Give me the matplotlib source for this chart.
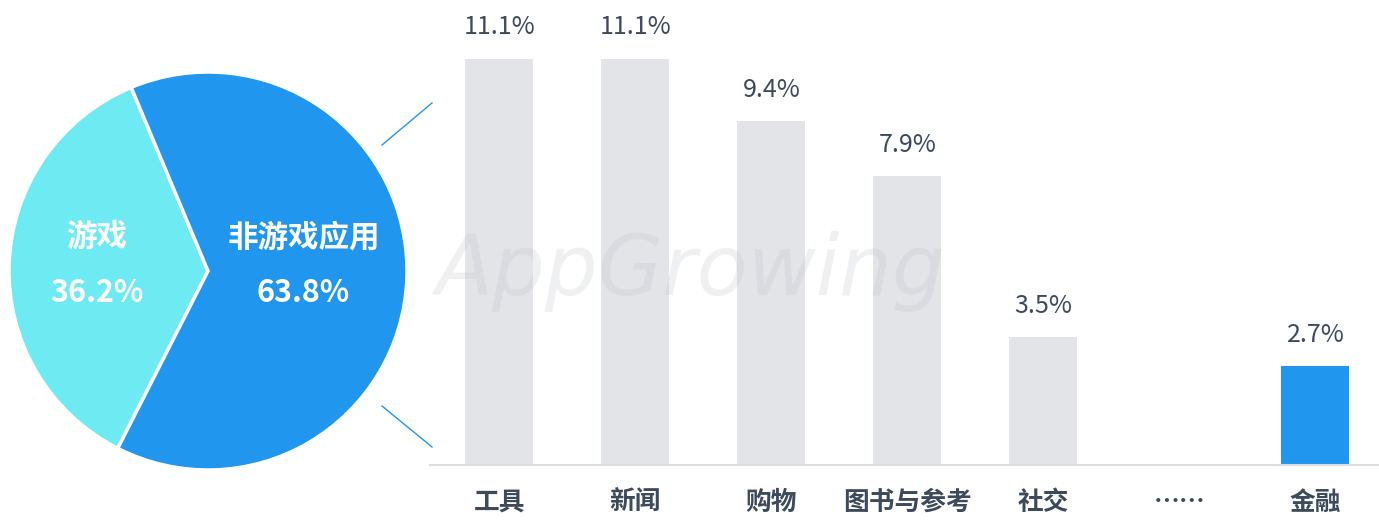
import matplotlib
matplotlib.use("Agg")
import matplotlib.pyplot as plt
from matplotlib.lines import Line2D

plt.rcParams['font.family'] = ['Noto Sans CJK SC', 'DejaVu Sans']

# pie: game vs non-game
pie_labels = ["游戏", "非游戏应用"]
pie_values = [36.2, 63.8]
pie_colors = ["#6EEBF2", "#2196EE"]

# breakdown of non-game apps
categories = ["工具", "新闻", "购物", "图书与参考", "社交", "……", "金融"]
shares = [11.1, 11.1, 9.4, 7.9, 3.5, None, 2.7]
bar_colors = ["#E3E4E8"] * 6 + ["#2196EE"]

W, H = 1379, 521
fig = plt.figure(figsize=(W / 100, H / 100), dpi=100)

# ---- pie ----
cx, cy, r = 208, 271, 199
pax = fig.add_axes([(cx - r) / W, (H - cy - r) / H, 2 * r / W, 2 * r / H])
pax.pie(pie_values, colors=pie_colors, startangle=112.7, counterclock=True,
        radius=1, wedgeprops=dict(edgecolor="white", linewidth=2.5))
pax.set_xlim(-1.0, 1.0)
pax.set_ylim(-1.0, 1.0)
pax.set_aspect("auto")
pax.axis("off")

for lab, val, x in zip(pie_labels, pie_values, [-0.56, 0.48]):
    pax.text(x, 0.17, lab, ha="center", va="center", color="white",
             fontsize=22, fontweight="bold")
    pax.text(x, -0.11, f"{val}%", ha="center", va="center", color="white",
             fontsize=22, fontweight="bold")

# connector lines from pie to bars
for (x0, y0), (x1, y1) in [((382, 145), (432, 103)), ((382, 406), (432, 447))]:
    fig.add_artist(Line2D([x0 / W, x1 / W], [1 - y0 / H, 1 - y1 / H],
                          color="#2196EE", lw=1, transform=fig.transFigure))

# ---- bars ----
left, right, base = 430, 1379, 465
bax = fig.add_axes([left / W, (H - base) / H, (right - left) / W, base / H])
x = list(range(len(categories)))
heights = [v if v is not None else 0 for v in shares]
bax.bar(x, heights, width=0.5, color=bar_colors, zorder=2)
for xi, v in zip(x, shares):
    if v is not None:
        bax.text(xi, v + 0.5, f"{v}%", ha="center", va="bottom",
                 fontsize=18, color="#3D4A5C")

bax.set_xlim(-0.511, 6.467)
bax.set_ylim(0, 465 / 36.6)
bax.set_xticks(x)
bax.set_xticklabels(categories, fontsize=18.5, fontweight="bold", color="#3D4A5C")
bax.tick_params(axis="x", length=0, pad=17)
bax.set_yticks([])
for s in ["top", "right", "left"]:
    bax.spines[s].set_visible(False)
bax.spines["bottom"].set_color("#DCDDE1")
bax.spines["bottom"].set_linewidth(1.5)
bax.patch.set_alpha(0)

# watermark
fig.text(690 / W, 1 - 272 / H, "AppGrowing", ha="center", va="center",
         fontsize=60, style="italic", color="#B8BCC6", alpha=0.22,
         family="DejaVu Sans", zorder=3)

fig.savefig("out.png", dpi=100)
